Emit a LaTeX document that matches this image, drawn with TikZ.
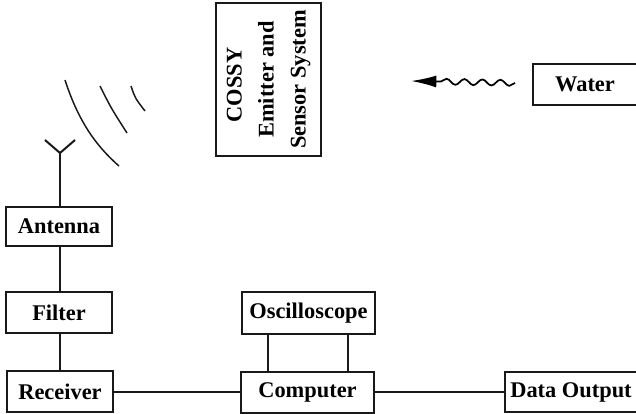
\documentclass[tikz,border=0pt]{standalone}
\usepackage{fontspec}
\setmainfont{Liberation Serif}
\usepackage{xcolor}
\usetikzlibrary{calc,positioning,arrows.meta,decorations.pathmorphing}

\tikzset{
    blockbox/.style={
        draw=black!90,
        line width=1.5pt,
        font=\bfseries\fontsize{16.8}{24}\selectfont,
        inner sep=1pt,
        minimum width=79.5pt,
        minimum height=30.5pt
    },
    wire/.style={black!90,line width=1.5pt},
    thinwave/.style={black!90,line width=1.1pt}
}

\begin{document}
\begin{tikzpicture}[x=0.75pt,y=-0.75pt]
        \clip (0,0) rectangle (636,414);
        \node[blockbox,rotate=90,align=center,minimum width=114.75pt,minimum height=78.75pt]
            (cossy) at (268.5,79.5) {COSSY\hspace*{8pt}\\Emitter and\\Sensor System};
        \node[blockbox,minimum width=78pt] (water) at (585,84.5) {Water};
        \node[blockbox,minimum height=29.5pt] (antenna) at (59,226.5) {Antenna};
        \node[blockbox] (filter) at (59,312.5) {Filter};
        \node[blockbox] (receiver) at (60,391.5) {Receiver};
        \node[blockbox,minimum width=99.75pt,minimum height=31pt] (scope) at (308.5,313) {Oscilloscope};
        \node[blockbox,minimum width=99.75pt] (computer) at (307.5,392.5) {Computer};
        \node[blockbox,minimum width=99pt] (output) at (571,392) {Data Output};

        % aerial on top of the antenna box
        \coordinate (fork) at (60,153);
        \coordinate (forkl) at (45,140);
        \coordinate (forkr) at (75,140);
        \draw[wire] (antenna.north -| fork) -- (fork);
        \draw[wire] (forkl) -- (fork) -- (forkr);

        % chain of boxes
        \draw[wire] (antenna.south -| fork) -- (filter.north -| fork);
        \draw[wire] (filter.south -| fork) -- (receiver.north -| fork);
        \draw[wire] (receiver.east) -- (receiver.east -| computer.west);
        \draw[wire] (output.west -| computer.east) -- (output.west);
        \draw[wire] ($(scope.south)+(-41,0)$) -- ($(computer.north)+(-40,0)$);
        \draw[wire] ($(scope.south)+(39,0)$) -- ($(computer.north)+(40,0)$);

        % radiated waves
        \draw[thinwave] (65,80) .. controls (78,120) and (95,145) .. (119,166);
        \draw[thinwave] (100,86) .. controls (111,108) .. (127,133);
        \draw[thinwave] (131,86) .. controls (135,98) .. (145,111);

        % wavy arrow next to the water box
        \coordinate (wavestart) at (515,83);
        \coordinate (wavetip) at (411,81);
        \draw[
            black,
            line width=1.3pt,
            -{Latex[length=19pt,width=9pt]},
            decorate,
            decoration={snake,amplitude=2.2pt,segment length=13.5pt,post length=20pt}
        ] (wavestart) -- (wavetip);
    \end{tikzpicture}
\end{document}
